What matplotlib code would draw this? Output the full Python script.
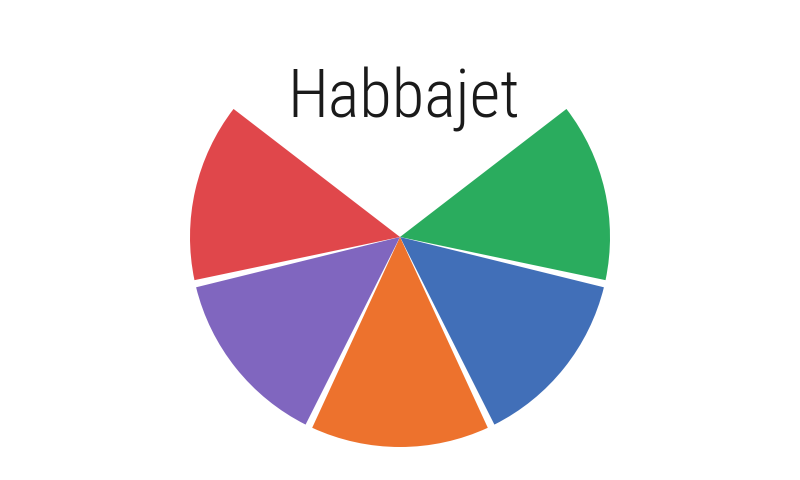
import numpy as np
import matplotlib.pyplot as plt
from matplotlib import font_manager

# data: five filled slots out of a seven-slot circle
labels = ['Mon', 'Tue', 'Wed', 'Thu', 'Fri']
values = [1, 1, 1, 1, 1]
total_slots = 7
colors = ['#2aac5e', '#416fb8', '#ed722d', '#8066bf', '#e0474b']
title = 'Habbajet'

available = {f.name for f in font_manager.fontManager.ttflist}
title_font = [f for f in ['Liberation Sans Narrow', 'Roboto Condensed', 'DejaVu Sans'] if f in available]

fig = plt.figure(figsize=(8, 4.8), dpi=100)
ax = fig.add_axes([0, 0, 1, 1])
ax.set_xlim(0, 800)
ax.set_ylim(0, 480)
ax.set_aspect('equal')
ax.axis('off')

fracs = np.array(values) / total_slots
wedges, _ = ax.pie(fracs, colors=colors, normalize=False, counterclock=False,
                   startangle=38.57, center=(400, 243), radius=210, frame=True)
ax.set_xlim(0, 800)
ax.set_ylim(0, 480)
ax.axis('off')

# small angular gap between slices
for w in wedges:
    w.set_theta1(w.theta1 + 1)
    w.set_theta2(w.theta2 - 1)

ax.text(404, 362, title, ha='center', va='baseline', fontsize=48,
        family=title_font, color='#1a1a1a', fontweight='light')

print(title_font)
fig.savefig('out.png', dpi=100)
